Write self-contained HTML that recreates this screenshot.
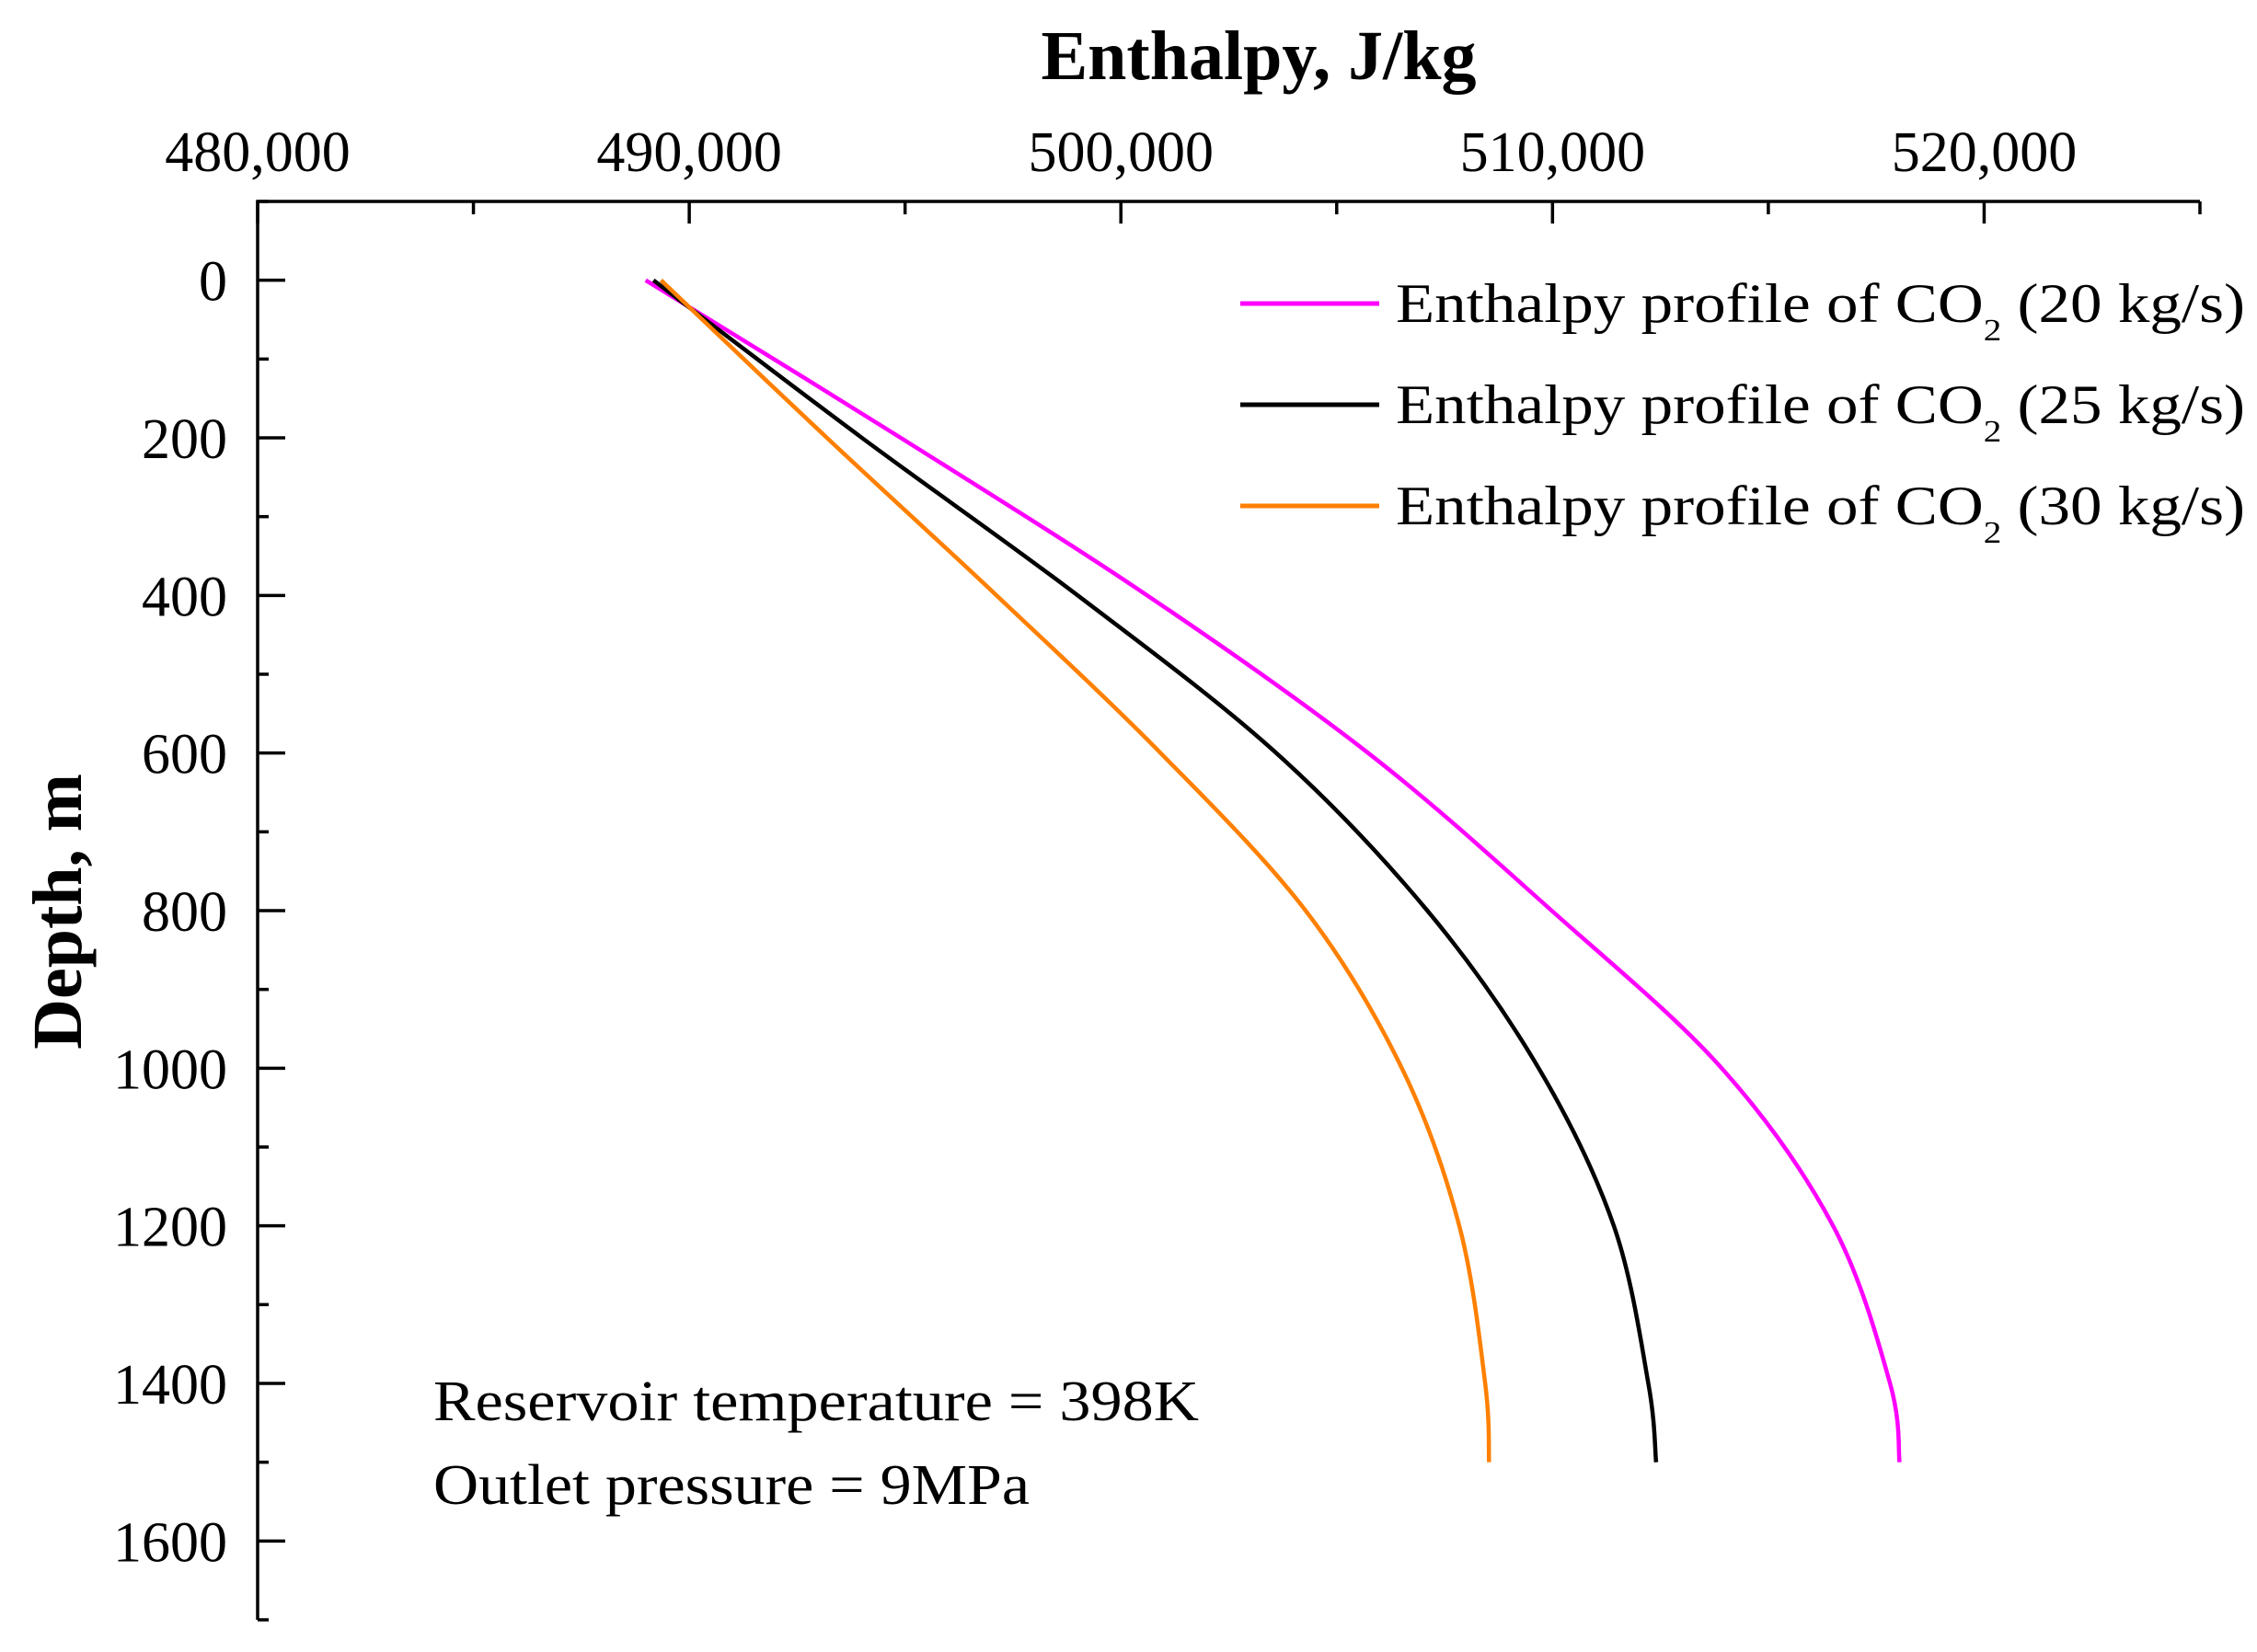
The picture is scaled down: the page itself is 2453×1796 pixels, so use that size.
<!DOCTYPE html>
<html><head><meta charset="utf-8"><style>
html,body{margin:0;padding:0;background:#fff;}
svg{display:block;}
text{font-family:"Liberation Serif","DejaVu Serif",serif;fill:#000;}
</style></head>
<body>
<svg id="chart" width="2453" height="1796" viewBox="0 0 2453 1796" xmlns="http://www.w3.org/2000/svg">
<rect width="2453" height="1796" fill="#fff"/>
<g id="axes"></g>
<g id="series"></g>
<g id="legend"></g>
<text x="1368" y="86" font-size="76" font-weight="bold" text-anchor="middle">Enthalpy, J/kg</text>
<text transform="translate(88,991) rotate(-90)" font-size="76" font-weight="bold" text-anchor="middle">Depth, m</text>
<text x="471" y="1544" font-size="62" textLength="832" lengthAdjust="spacingAndGlyphs">Reservoir temperature = 398K</text>
<text x="471" y="1635" font-size="62" textLength="648" lengthAdjust="spacingAndGlyphs">Outlet pressure = 9MPa</text>
</svg>
<script>
const depths = [0, 200, 400, 600, 800, 1000, 1200, 1400, 1500];
const enthalpy20 = [488990, 494900, 500610, 505730, 509980, 513920, 516500, 517820, 518040];
const enthalpy25 = [489170, 494000, 499000, 503600, 507100, 509680, 511420, 512220, 512400];
const enthalpy30 = [489345, 493190, 497120, 500920, 504280, 506510, 507840, 508440, 508530];
const xTicks = [480000, 490000, 500000, 510000, 520000];
const xTickLabels = ["480,000", "490,000", "500,000", "510,000", "520,000"];
const yTicks = [0, 200, 400, 600, 800, 1000, 1200, 1400, 1600];
const seriesNames = ["Enthalpy profile of CO", "Enthalpy profile of CO", "Enthalpy profile of CO"];
const seriesRates = ["(20 kg/s)", "(25 kg/s)", "(30 kg/s)"];

const NS = "http://www.w3.org/2000/svg";
const L = 280, R = 2391, T = 219, B = 1761;
const xMin = 480000, xMax = 525000, yMin = -100, yMax = 1700;
function xs(v){ return L + (v - xMin) / (xMax - xMin) * (R - L); }
function ys(d){ return T + (d - yMin) / (yMax - yMin) * (B - T); }
function mk(tag, attrs, parent){ const e = document.createElementNS(NS, tag); for (const k in attrs) e.setAttribute(k, attrs[k]); parent.appendChild(e); return e; }

const axes = document.getElementById('axes');
const axisPath = mk('path', {d:`M${L},${B} L${L},${T} L${R},${T}`, fill:'none', stroke:'#000', 'stroke-width':3.5}, axes);



for (let v = xMin; v <= xMax; v += 5000) {
  const major = v % 10000 === 0;
  const t = mk('line', {x1:xs(v), x2:xs(v), y1:T, y2:T + (major ? 24 : 14), stroke:'#000', 'stroke-width':3.5}, axes);
  
  
}
xTicks.forEach((v, i) => {
  const t = mk('text', {x:xs(v), y:186, 'font-size':62, 'text-anchor':'middle'}, axes);
  t.textContent = xTickLabels[i];
  
  
});
for (let d = -100; d <= 1700; d += 100) {
  const major = d % 200 === 0;
  const t = mk('line', {x1:L, x2:L + (major ? 30 : 12), y1:ys(d), y2:ys(d), stroke:'#000', 'stroke-width':3.5}, axes);
  
  
}
yTicks.forEach(d => {
  const t = mk('text', {x:247, y:ys(d) + 22, 'font-size':62, 'text-anchor':'end'}, axes);
  t.textContent = String(d);
  
  
});

function smoothPath(pts){
  let d = `M${pts[0][0]},${pts[0][1]}`;
  for (let i = 0; i < pts.length - 1; i++) {
    const p0 = pts[Math.max(i-1,0)], p1 = pts[i], p2 = pts[i+1], p3 = pts[Math.min(i+2, pts.length-1)];
    const c1 = [p1[0] + (p2[0]-p0[0])/6, p1[1] + (p2[1]-p0[1])/6];
    const c2 = [p2[0] - (p3[0]-p1[0])/6, p2[1] - (p3[1]-p1[1])/6];
    d += ` C${c1[0]},${c1[1]} ${c2[0]},${c2[1]} ${p2[0]},${p2[1]}`;
  }
  return d;
}
const seriesG = document.getElementById('series');
const colors = ['#ff00ff', '#000000', '#ff8000'];
const allSeries = [enthalpy20, enthalpy25, enthalpy30];
const names = ['line-20kgs', 'line-25kgs', 'line-30kgs'];
allSeries.forEach((vals, i) => {
  const pts = vals.map((v, j) => [xs(v), ys(depths[j])]);
  const p = mk('path', {d:smoothPath(pts), fill:'none', stroke:colors[i], 'stroke-width':4.5}, seriesG);
  
  
});

const lg = document.getElementById('legend');
const legendY = [330, 440, 550];
seriesNames.forEach((n, i) => {
  const ln = mk('line', {x1:1348, x2:1499, y1:legendY[i], y2:legendY[i], stroke:colors[i], 'stroke-width':5}, lg);
  
  
  const t = mk('text', {x:1517, y:legendY[i] + 20, 'font-size':60}, lg);
  
  
  const a = mk('tspan', {}, t); a.textContent = n;
  const s = mk('tspan', {'font-size':34, dy:20}, t); s.textContent = '2';
  const b = mk('tspan', {dy:-20}, t); b.textContent = ' ' + seriesRates[i];
  t.setAttribute('textLength', 923);
  t.setAttribute('lengthAdjust', 'spacingAndGlyphs');
});
</script>
</body></html>
